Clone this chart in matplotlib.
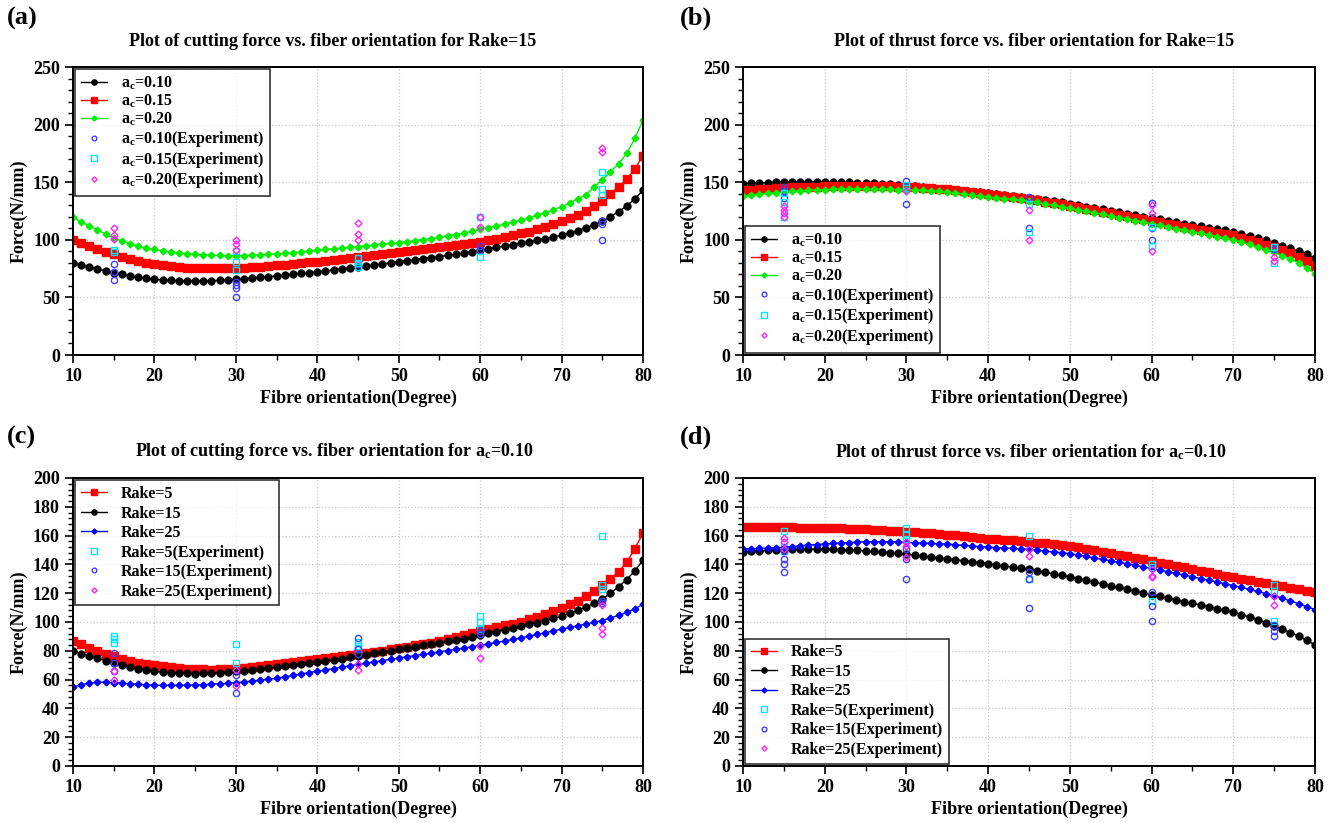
import matplotlib
matplotlib.use("Agg")
import matplotlib.pyplot as plt
from matplotlib.ticker import MultipleLocator

plt.rcParams['font.family'] = ['Liberation Serif', 'DejaVu Serif']
plt.rcParams['font.weight'] = 'bold'
plt.rcParams['mathtext.default'] = 'regular'

# fibre orientation, one model point per degree
angles = list(range(10, 81))

# (a) cutting force, Rake=15
cut_ac010 = [80, 78, 76.5, 75, 73, 71.5, 70, 68.5, 67.5, 66.5, 65.7, 65.2, 64.8, 64.5, 64.3, 64.2, 64.3, 64.5, 64.8, 65.2,
             65.7, 66.2, 66.8, 67.4, 68, 68.7, 69.4, 70.1, 70.8, 71.5, 72.2, 73, 73.8, 74.6, 75.4, 76.5, 77.3, 78.2, 79.1, 80,
             81, 81.9, 82.8, 83.7, 84.6, 85.5, 86.5, 87.5, 88.5, 89.7, 91, 92.2, 93.4, 94.6, 95.8, 97, 98.3, 99.6, 101, 102.5,
             104, 106, 108, 110.5, 113, 116, 120, 124.5, 129.5, 135.5, 143]
cut_ac015 = [100, 97, 94.5, 92, 89.5, 87.5, 85.5, 83.5, 81.5, 80, 78.8, 77.8, 77, 76.3, 75.8, 75.4, 75.2, 75.1, 75.1, 75.2,
             75.4, 75.8, 76.2, 76.7, 77.2, 77.8, 78.4, 79, 79.6, 80.3, 81, 81.8, 82.6, 83.4, 84.2, 85, 85.8, 86.6, 87.4, 88.2,
             89, 89.9, 90.8, 91.7, 92.6, 93.5, 94.5, 95.5, 96.5, 97.5, 98.5, 99.7, 101, 102.3, 103.8, 105.5, 107.2, 109, 111, 113.3,
             116, 118.5, 121.5, 125, 129, 134, 140, 146, 152.5, 161.5, 173]
cut_ac020 = [119.5, 115.5, 112, 108.5, 105, 101.5, 99, 96.5, 94.5, 93, 91.7, 90.5, 89.5, 88.6, 87.9, 87.4, 87, 86.6, 86.4, 86.2,
             86.2, 86.3, 86.6, 86.9, 87.3, 87.8, 88.3, 88.9, 89.5, 90.2, 91, 91.6, 92.2, 92.8, 93.4, 94, 94.7, 95.4, 96.1, 96.8,
             97.5, 98.4, 99.3, 100.2, 101.1, 102, 103.3, 104.6, 106, 107.5, 109, 110.5, 112, 113.6, 115.3, 117, 119, 121.2, 123.5, 126,
             128.7, 132, 135.5, 139, 146, 152, 159, 166, 175, 188, 204]

# (b) thrust force, Rake=15
thr_ac010 = [148.5, 149, 149.4, 149.7, 150, 150.2, 150.4, 150.5, 150.6, 150.6, 150.5, 150.4, 150.2, 150, 149.7, 149.4, 149, 148.6, 148.1, 147.6,
             147, 146.4, 145.8, 145.1, 144.4, 144, 143.3, 142.6, 141.9, 141.2, 140.4, 139.7, 138.9, 138.1, 137.3, 136.5, 135.5, 134.5, 133.5, 132.4,
             131.3, 130.1, 128.9, 127.7, 126.5, 125.2, 124, 122.7, 121.4, 120.1, 119, 117.8, 116.6, 115.3, 114, 113, 111.8, 110.5, 109.3, 108.1,
             107, 105.2, 103.4, 101.5, 99.5, 97.3, 95, 92.6, 90.1, 87.3, 84]
thr_ac015 = [143, 143.5, 144, 144.5, 144.8, 145.1, 145.4, 145.7, 146, 146.2, 146.4, 146.6, 146.7, 146.8, 146.8, 146.8, 146.7, 146.6, 146.4, 146.2,
             146, 145.6, 145.2, 144.7, 144.2, 143.7, 143, 142.3, 141.6, 140.8, 140, 139.2, 138.3, 137.4, 136.5, 135.6, 134.4, 133.2, 132, 130.7,
             129.4, 128.2, 127, 125.7, 124.4, 123.1, 121.8, 120.5, 119.2, 117.9, 116.5, 115.2, 113.9, 112.6, 111.3, 110, 108.8, 107.5, 106.3, 105,
             103.8, 101.8, 99.8, 97.8, 95.7, 93.5, 91, 88.3, 85.3, 81.6, 77.5]
thr_ac020 = [137.6, 138.5, 139.4, 140.2, 140.9, 141.5, 142, 142.5, 142.9, 143.2, 143.5, 143.7, 143.9, 144, 144, 144, 143.9, 143.8, 143.7, 143.6,
             143.5, 143.2, 142.8, 142.4, 142, 141.5, 140.7, 139.8, 138.9, 138, 137, 136.4, 135.8, 135.2, 134.5, 133.8, 132.5, 131.2, 130, 128.7,
             127.4, 126.1, 124.8, 123.5, 122.1, 120.7, 119.3, 118, 116.7, 115.3, 114, 112.6, 111.2, 109.8, 108.4, 107, 105.6, 104.2, 102.8, 101.4,
             100, 98, 96, 93.8, 91.5, 89, 86.3, 83.3, 80, 75.5, 70.6]

# (c) cutting force, ac=0.10 (Rake=15 is the same series as cut_ac010)
cut_rake5 = [86.7, 84.4, 82, 80, 78, 76.2, 74.5, 73, 71.7, 70.6, 69.8, 69.1, 68.5, 68, 67.6, 67.3, 67.1, 67, 67.1, 67.3,
             67.7, 68.2, 68.7, 69.3, 69.9, 70.5, 71.2, 71.9, 72.6, 73.3, 74, 74.7, 75.4, 76.1, 76.8, 77.5, 78.4, 79.3, 80.2, 81.1,
             82, 82.9, 83.8, 84.7, 85.7, 86.7, 88, 89.3, 90.7, 92.2, 93.7, 95, 96.3, 97.6, 98.9, 100.3, 102, 103.8, 105.7, 107.8,
             110, 112.3, 114.7, 118, 121.6, 125.5, 130, 135, 141.5, 151, 161.6]
cut_rake25 = [54.7, 56.5, 57.5, 58.2, 58.2, 57.9, 57.5, 57.1, 56.7, 56.4, 56.1, 56, 56, 56, 56.1, 56.3, 56.5, 56.8, 57.1, 57.4,
              57.8, 58.4, 59, 59.6, 60.3, 61, 61.9, 62.9, 63.9, 64.9, 65.8, 66.8, 67.7, 68.6, 69.6, 70.5, 71.4, 72.3, 73.2, 74.1,
              75, 75.9, 76.7, 77.6, 78.4, 79.3, 80.2, 81, 81.9, 82.8, 83.7, 84.7, 85.8, 86.8, 87.9, 89, 90.2, 91.4, 92.6, 93.8,
              95, 96.2, 97.4, 98.6, 99.8, 101, 102.8, 104.6, 106.6, 109.2, 112.3]

# (d) thrust force, ac=0.10 (Rake=15 is the same series as thr_ac010)
thr_rake5 = [165.8, 165.8, 165.8, 165.8, 165.8, 165.8, 165.7, 165.6, 165.5, 165.4, 165.3, 165.2, 165, 164.8, 164.6, 164.4, 164.1, 163.8, 163.5, 163.2,
             162.8, 162.4, 162, 161.6, 161.2, 160.7, 160.1, 159.5, 158.9, 158.3, 157.9, 157.5, 157.1, 156.6, 156.2, 155.8, 155.2, 154.6, 154, 153.5,
             152.9, 151.9, 150.9, 149.9, 148.9, 147.8, 146.8, 145.7, 144.6, 143.5, 142.4, 141.3, 140.2, 139.1, 138, 136.9, 135.7, 134.5, 133.4, 132.2,
             131.1, 130.1, 129.1, 128, 127, 125.9, 124.8, 123.7, 122.6, 121.6, 120.5]
thr_rake25 = [150.7, 150.9, 151.1, 151.3, 151.6, 151.9, 152.4, 152.9, 153.4, 153.8, 154.2, 154.6, 154.9, 155.2, 155.5, 155.7, 155.8, 155.8, 155.7, 155.5,
              155.3, 155.1, 154.9, 154.6, 154.4, 154.1, 153.7, 153.3, 152.8, 152.4, 152, 151.7, 151.4, 151.1, 150.8, 150.5, 149.9, 149.3, 148.7, 148.1,
              147.5, 146.5, 145.5, 144.5, 143.5, 142.5, 141.5, 140.4, 139.3, 138.2, 137.2, 136.1, 134.9, 133.8, 132.6, 131.4, 130.2, 129, 127.7, 126.5,
              125.3, 124, 122.6, 121.2, 119.7, 118.3, 116.5, 114.6, 112.7, 110.7, 108.6]

# experiments
exp_a_x010 = [15, 15, 15, 30, 30, 30, 30, 45, 45, 45, 60, 60, 75, 75, 75]
exp_a_y010 = [79, 72, 65, 63.5, 61, 58, 50, 84, 79, 76, 94.5, 91, 116, 113.5, 100]
exp_a_x015 = [15, 15, 30, 30, 30, 45, 45, 45, 60, 60, 75, 75, 75]
exp_a_y015 = [91, 89, 90, 81, 74, 84, 80, 76, 120, 85, 159, 144, 139]
exp_a_x020 = [15, 15, 15, 30, 30, 30, 45, 45, 45, 60, 60, 75, 75]
exp_a_y020 = [110.5, 104, 100.5, 100, 96, 91, 115, 105, 100, 120, 111, 180, 176]

exp_b_x010 = [15, 15, 15, 30, 30, 45, 45, 60, 60, 60, 75, 75]
exp_b_y010 = [146, 142, 136, 151, 131, 137.5, 110, 132, 110.5, 100, 94, 92]
exp_b_x015 = [15, 15, 15, 30, 30, 45, 45, 60, 60, 75, 75]
exp_b_y015 = [140.5, 133, 120, 148, 145, 131, 107, 111, 94.5, 93.5, 79.5]
exp_b_x020 = [15, 15, 15, 15, 30, 45, 45, 60, 60, 60, 75, 75]
exp_b_y020 = [129, 126, 123, 120, 142, 126, 100, 130.5, 123, 90.5, 85, 82]

exp_c_x5 = [15, 15, 15, 30, 30, 45, 45, 45, 60, 60, 60, 75, 75, 75]
exp_c_y5 = [90, 88, 85.5, 85, 71.5, 86, 83, 81, 104, 100, 95, 160, 126, 123]
exp_c_x15 = [15, 15, 15, 30, 30, 45, 45, 45, 60, 60, 75, 75]
exp_c_y15 = [78.5, 71.5, 66, 63.5, 50.5, 89, 81, 77.5, 93.5, 91.5, 114.5, 113.5]
exp_c_x25 = [15, 15, 30, 30, 45, 45, 60, 60, 75, 75, 75]
exp_c_y25 = [66, 60, 67, 55.5, 70.5, 66.5, 83, 75, 111.5, 96, 92]

exp_d_x5 = [15, 15, 15, 30, 30, 30, 45, 45, 60, 60, 60, 75, 75, 75]
exp_d_y5 = [163.5, 155.5, 149.5, 165.5, 160.5, 157.5, 160, 130, 140, 138, 114.5, 126, 121.5, 100.5]
exp_d_x15 = [15, 15, 15, 15, 30, 30, 30, 45, 45, 45, 60, 60, 60, 75, 75, 75]
exp_d_y15 = [149.5, 144, 140.5, 135, 150.5, 143.5, 130, 134.5, 130, 110, 120.5, 111, 100.5, 98, 94, 90]
exp_d_x25 = [15, 15, 15, 30, 30, 30, 45, 45, 60, 60, 60, 75, 75]
exp_d_y25 = [158, 155.5, 150.5, 155.5, 153, 145, 150.5, 146, 136.5, 132, 131, 118, 111.5]

W, H = 1338, 823
fig = plt.figure(figsize=(W / 100, H / 100), dpi=100)


def px(x0, y0, x1, y1):
    return [x0 / W, 1 - y1 / H, (x1 - x0) / W, (y1 - y0) / H]


def model(ax, y, color, marker, ms, label):
    ax.plot(angles, y, color=color, marker=marker, ms=ms, lw=1, mec=color, mfc=color, label=label)


def exper(ax, xs, ys, color, marker, ms, label):
    ax.plot(xs, ys, ls='none', marker=marker, ms=ms, mfc='none', mec=color, mew=1, label=label)


def setup(ax, ymax, major, minor):
    ax.set_xlim(10, 80)
    ax.set_ylim(0, ymax)
    ax.xaxis.set_major_locator(MultipleLocator(10))
    ax.xaxis.set_minor_locator(MultipleLocator(5))
    ax.yaxis.set_major_locator(MultipleLocator(major))
    ax.yaxis.set_minor_locator(MultipleLocator(minor))
    ax.tick_params(which='major', length=6, width=1.2, labelsize=13, direction='out')
    ax.tick_params(which='minor', length=3.5, width=1, direction='out')
    for lab in ax.get_xticklabels() + ax.get_yticklabels():
        lab.set_fontweight('bold')
    ax.grid(True, which='major', ls=':', color='#c8c8c8', lw=0.9)
    for s in ax.spines.values():
        s.set_linewidth(1.4)
    ax.set_xlabel('Fibre orientation(Degree)', fontsize=13, fontweight='bold', labelpad=3)
    ax.set_ylabel('Force(N/mm)', fontsize=13, fontweight='bold', labelpad=4)


def legend(ax, loc, spacing):
    lg = ax.legend(loc=loc, fontsize=11.5, frameon=True, fancybox=False, edgecolor='black',
                   borderaxespad=0.15, labelspacing=spacing, handlelength=1.6, handletextpad=0.9,
                   borderpad=0.35, numpoints=1, markerscale=0.75)
    lg.get_frame().set_linewidth(1.2)
    for t in lg.get_texts():
        t.set_fontweight('bold')


ac = r'a$_\mathregular{c}$'

# (a)
ax = fig.add_axes(px(73, 67, 643, 355))
model(ax, cut_ac010, 'black', 'o', 5, ac + '=0.10')
model(ax, cut_ac015, '#ff0000', 's', 6.3, ac + '=0.15')
model(ax, cut_ac020, '#00ee00', 'D', 3.4, ac + '=0.20')
exper(ax, exp_a_x010, exp_a_y010, '#3f3fff', 'o', 4.5, ac + '=0.10(Experiment)')
exper(ax, exp_a_x015, exp_a_y015, '#00e5ff', 's', 5, ac + '=0.15(Experiment)')
exper(ax, exp_a_x020, exp_a_y020, '#ff22ff', 'D', 3.5, ac + '=0.20(Experiment)')
setup(ax, 250, 50, 10)
legend(ax, 'upper left', 0.04)

# (b)
ax = fig.add_axes(px(743, 67, 1315, 355))
model(ax, thr_ac010, 'black', 'o', 5, ac + '=0.10')
model(ax, thr_ac015, '#ff0000', 's', 6.3, ac + '=0.15')
model(ax, thr_ac020, '#00ee00', 'D', 3.4, ac + '=0.20')
exper(ax, exp_b_x010, exp_b_y010, '#3f3fff', 'o', 4.5, ac + '=0.10(Experiment)')
exper(ax, exp_b_x015, exp_b_y015, '#00e5ff', 's', 5, ac + '=0.15(Experiment)')
exper(ax, exp_b_x020, exp_b_y020, '#ff22ff', 'D', 3.5, ac + '=0.20(Experiment)')
setup(ax, 250, 50, 10)
legend(ax, 'lower left', 0.04)

# (c)
ax = fig.add_axes(px(73, 478, 643, 766))
model(ax, cut_rake5, '#ff0000', 's', 6.3, 'Rake=5')
model(ax, cut_ac010, 'black', 'o', 5, 'Rake=15')
model(ax, cut_rake25, '#0000ff', 'D', 3.4, 'Rake=25')
exper(ax, exp_c_x5, exp_c_y5, '#00e5ff', 's', 5, 'Rake=5(Experiment)')
exper(ax, exp_c_x15, exp_c_y15, '#3f3fff', 'o', 4.5, 'Rake=15(Experiment)')
exper(ax, exp_c_x25, exp_c_y25, '#ff22ff', 'D', 3.5, 'Rake=25(Experiment)')
setup(ax, 200, 20, 4)
legend(ax, 'upper left', 0.22)

# (d)
ax = fig.add_axes(px(743, 478, 1315, 766))
model(ax, thr_rake5, '#ff0000', 's', 6.3, 'Rake=5')
model(ax, thr_ac010, 'black', 'o', 5, 'Rake=15')
model(ax, thr_rake25, '#0000ff', 'D', 3.4, 'Rake=25')
exper(ax, exp_d_x5, exp_d_y5, '#00e5ff', 's', 5, 'Rake=5(Experiment)')
exper(ax, exp_d_x15, exp_d_y15, '#3f3fff', 'o', 4.5, 'Rake=15(Experiment)')
exper(ax, exp_d_x25, exp_d_y25, '#ff22ff', 'D', 3.5, 'Rake=25(Experiment)')
setup(ax, 200, 20, 4)
legend(ax, 'lower left', 0.22)

# titles and panel letters
fig.text(333 / W, 1 - 42 / H, 'Plot of cutting force vs. fiber orientation for Rake=15',
         ha='center', va='center', fontsize=13, fontweight='bold')
fig.text(1034 / W, 1 - 42 / H, 'Plot of thrust force vs. fiber orientation for Rake=15',
         ha='center', va='center', fontsize=13, fontweight='bold')
fig.text(334 / W, 1 - 452 / H, 'Plot of cutting force vs. fiber orientation for ' + ac + '=0.10',
         ha='center', va='center', fontsize=13, fontweight='bold')
fig.text(1031 / W, 1 - 452 / H, 'Plot of thrust force vs. fiber orientation for ' + ac + '=0.10',
         ha='center', va='center', fontsize=13, fontweight='bold')
for lab, x, y in [('(a)', 7, 18), ('(b)', 680, 18), ('(c)', 7, 437), ('(d)', 680, 437)]:
    fig.text(x / W, 1 - y / H, lab, ha='left', va='center', fontsize=19, fontweight='bold')

fig.savefig('out.png', dpi=100)
